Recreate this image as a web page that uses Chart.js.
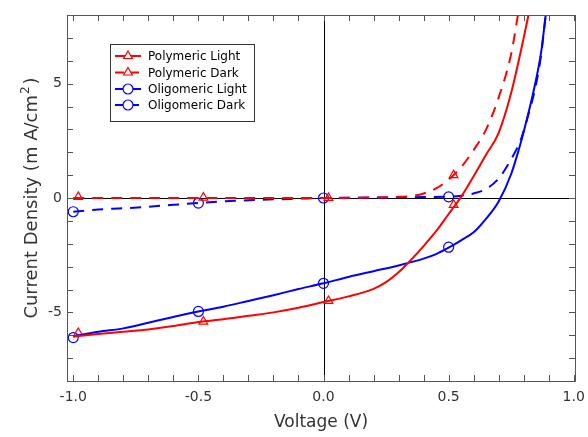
<!DOCTYPE html>
<html>
<head>
<meta charset="utf-8">
<script src="https://cdn.jsdelivr.net/npm/chart.js@4/dist/chart.umd.min.js"></script>
<style>
  html, body { margin: 0; padding: 0; background: #fff; }
  #wrap { width: 588px; height: 437px; position: relative; }
</style>
</head>
<body>
<div id="wrap"><canvas id="ivChart"></canvas></div>
<script>
// Voltage (V) / current density (mA/cm2)
const polyLightV = [-1.0, -0.9, -0.8, -0.7, -0.6, -0.5, -0.4, -0.3, -0.2, -0.1, 0.0, 0.1, 0.2, 0.25, 0.3, 0.35, 0.4, 0.45, 0.5, 0.55, 0.6, 0.65, 0.7, 0.75, 0.8, 0.83];
const polyLightJ = [-6.05, -5.95, -5.85, -5.75, -5.6, -5.42, -5.3, -5.15, -5.0, -4.8, -4.55, -4.3, -3.97, -3.68, -3.25, -2.7, -2.1, -1.45, -0.7, 0.05, 0.95, 1.9, 2.85, 4.6, 7.0, 8.6];

const polyDarkV = [-1.0, -0.5, 0.0, 0.2, 0.3, 0.35, 0.4, 0.45, 0.5, 0.55, 0.6, 0.65, 0.7, 0.75, 0.78];
const polyDarkJ = [0.0, 0.0, 0.0, 0.02, 0.05, 0.08, 0.2, 0.42, 0.8, 1.35, 2.1, 3.0, 4.4, 6.3, 8.2];

const oligoLightV = [-1.0, -0.9, -0.8, -0.7, -0.6, -0.5, -0.4, -0.3, -0.2, -0.1, 0.0, 0.1, 0.2, 0.3, 0.4, 0.45, 0.5, 0.55, 0.6, 0.65, 0.7, 0.75, 0.78, 0.8, 0.84, 0.87, 0.89];
const oligoLightJ = [-6.05, -5.85, -5.7, -5.45, -5.2, -4.96, -4.75, -4.5, -4.25, -3.98, -3.73, -3.45, -3.2, -2.95, -2.65, -2.45, -2.17, -1.85, -1.5, -0.9, -0.15, 1.05, 2.1, 2.9, 4.7, 6.4, 8.2];

const oligoDarkV = [-1.0, -0.9, -0.8, -0.7, -0.6, -0.5, -0.4, -0.3, -0.2, -0.1, 0.0, 0.2, 0.4, 0.5, 0.55, 0.6, 0.65, 0.7, 0.75, 0.79, 0.82, 0.85, 0.87, 0.89];
const oligoDarkJ = [-0.6, -0.5, -0.45, -0.38, -0.3, -0.22, -0.15, -0.1, -0.06, -0.03, 0.0, 0.02, 0.04, 0.06, 0.1, 0.2, 0.4, 0.85, 1.7, 2.6, 3.7, 5.0, 6.3, 8.2];

// marker positions
const polyMarkV = [-0.98, -0.48, 0.02, 0.52];
const polyLightMarkJ = [-5.9, -5.4, -4.5, -0.3];
const polyDarkMarkJ = [0.05, 0.02, 0.0, 1.0];
const oligoMarkV = [-1.0, -0.5, 0.0, 0.5];
const oligoLightMarkJ = [-6.1, -4.96, -3.73, -2.15];
const oligoDarkMarkJ = [-0.6, -0.22, 0.0, 0.05];

const xTicks = [-1.0, -0.5, 0.0, 0.5, 1.0];
const yTicks = [-5, 0, 5];

const seriesNames = ['Polymeric Light', 'Polymeric Dark', 'Oligomeric Light', 'Oligomeric Dark'];
const yTitle = ['Current Density (m A/cm', '2', ')'];

const RED = '#ff0000';
const BLUE = '#0000ff';
const DASH = [11, 8];
const TEXT = '#333';

function pts(xs, ys) {
    return xs.map((x, i) => ({ x: x, y: ys[i] }));
}

function lineSet(label, xs, ys, color, dashed) {
    return {
        label: label,
        data: pts(xs, ys),
        borderColor: color,
        borderWidth: 2,
        borderDash: dashed ? DASH : [],
        pointRadius: 0,
        showLine: true,
        fill: false,
        cubicInterpolationMode: 'monotone',
    };
}

function markSet(xs, ys, color, style) {
    return {
        label: '',
        data: pts(xs, ys),
        borderColor: color,
        backgroundColor: 'rgba(0,0,0,0)',
        borderWidth: 1.2,
        pointStyle: style,
        pointRadius: 5,
        showLine: false,
    };
}

// frame, inward ticks, zero lines, legend and y title
const framePlugin = {
    id: 'frame',
    beforeDatasetsDraw(chart) {
        const { ctx, chartArea: a, scales } = chart;
        const xs = scales.x, ys = scales.y;
        ctx.save();
        ctx.strokeStyle = '#000';
        ctx.lineWidth = 1;
        ctx.beginPath();
        const y0 = Math.round(ys.getPixelForValue(0)) + 0.5;
        const x0 = Math.round(xs.getPixelForValue(0)) + 0.5;
        ctx.moveTo(a.left, y0); ctx.lineTo(a.right, y0);
        ctx.moveTo(x0, a.top); ctx.lineTo(x0, a.bottom);
        ctx.stroke();
        ctx.restore();
    },
    afterDraw(chart) {
        const { ctx, chartArea: a, scales } = chart;
        const xs = scales.x, ys = scales.y;
        ctx.save();
        ctx.strokeStyle = '#555';
        ctx.lineWidth = 1;
        ctx.strokeRect(Math.round(a.left) + 0.5, Math.round(a.top) + 0.5,
            Math.round(a.right - a.left), Math.round(a.bottom - a.top));
        ctx.beginPath();
        for (let i = -10; i <= 10; i++) {
            const px = Math.round(xs.getPixelForValue(i / 10)) + 0.5;
            ctx.moveTo(px, a.bottom); ctx.lineTo(px, a.bottom - 6);
            ctx.moveTo(px, a.top); ctx.lineTo(px, a.top + 6);
        }
        for (let j = -8; j <= 8; j++) {
            const py = Math.round(ys.getPixelForValue(j)) + 0.5;
            ctx.moveTo(a.left, py); ctx.lineTo(a.left + 6, py);
            ctx.moveTo(a.right, py); ctx.lineTo(a.right - 6, py);
        }
        ctx.stroke();

        // legend
        const bx = 110.5, by = 44.5, bw = 144, bh = 77;
        ctx.fillStyle = '#fff';
        ctx.fillRect(bx, by, bw, bh);
        ctx.strokeStyle = '#333';
        ctx.strokeRect(bx, by, bw, bh);
        const rows = [56, 72.5, 89, 105];
        const colors = [RED, RED, BLUE, BLUE];
        const dashed = [false, true, false, true];
        const styles = ['triangle', 'triangle', 'circle', 'circle'];
        ctx.font = '12px "DejaVu Sans"';
        ctx.textBaseline = 'middle';
        for (let k = 0; k < 4; k++) {
            const ry = rows[k];
            ctx.strokeStyle = colors[k];
            ctx.lineWidth = 2;
            ctx.setLineDash(dashed[k] ? [9, 6] : []);
            ctx.beginPath();
            ctx.moveTo(115, ry); ctx.lineTo(141, ry);
            ctx.stroke();
            ctx.setLineDash([]);
            ctx.lineWidth = 1.2;
            ctx.fillStyle = '#fff';
            Chart.helpers.drawPoint(ctx, { pointStyle: styles[k], radius: 5, borderWidth: 1.2 }, 128, ry);
            ctx.fillStyle = '#000';
            ctx.fillText(seriesNames[k], 148, ry + 1);
        }

        // y axis title with superscript
        ctx.fillStyle = TEXT;
        ctx.textBaseline = 'alphabetic';
        const big = '18px "DejaVu Sans"', small = '12px "DejaVu Sans"';
        ctx.font = big;
        const w0 = ctx.measureText(yTitle[0]).width;
        const w2 = ctx.measureText(yTitle[2]).width;
        ctx.font = small;
        const w1 = ctx.measureText(yTitle[1]).width + 3;
        const total = w0 + w1 + w2;
        const cy = (a.top + a.bottom) / 2;
        ctx.translate(37, cy);
        ctx.rotate(-Math.PI / 2);
        let tx = -total / 2;
        ctx.font = big;
        ctx.fillText(yTitle[0], tx, 0);
        tx += w0 + 1;
        ctx.font = small;
        ctx.fillText(yTitle[1], tx, -8);
        tx += w1 - 1;
        ctx.font = big;
        ctx.fillText(yTitle[2], tx, 0);
        ctx.restore();
    },
};

new Chart(document.getElementById('ivChart'), {
    type: 'scatter',
    data: {
        datasets: [
            lineSet(seriesNames[0], polyLightV, polyLightJ, RED, false),
            lineSet(seriesNames[1], polyDarkV, polyDarkJ, RED, true),
            lineSet(seriesNames[2], oligoLightV, oligoLightJ, BLUE, false),
            lineSet(seriesNames[3], oligoDarkV, oligoDarkJ, BLUE, true),
            markSet(polyMarkV, polyLightMarkJ, RED, 'triangle'),
            markSet(polyMarkV, polyDarkMarkJ, RED, 'triangle'),
            markSet(oligoMarkV, oligoLightMarkJ, BLUE, 'circle'),
            markSet(oligoMarkV, oligoDarkMarkJ, BLUE, 'circle'),
        ],
    },
    options: {
        responsive: true,
        maintainAspectRatio: false,
        animation: false,
        layout: { padding: { top: 15, right: 13, left: 0, bottom: 0 } },
        plugins: {
            legend: { display: false },
            tooltip: { enabled: false },
        },
        scales: {
            x: {
                type: 'linear',
                min: -1.025,
                max: 1.005,
                grid: { display: false, drawTicks: false },
                border: { display: false },
                afterBuildTicks: function (scale) {
                    scale.ticks = xTicks.map(v => ({ value: v }));
                },
                afterFit: function (scale) {
                    scale.height = 56;
                    scale.paddingLeft = 0;
                    scale.paddingRight = 0;
                },
                ticks: {
                    padding: 8,
                    color: TEXT,
                    font: { family: 'DejaVu Sans', size: 14 },
                    callback: function (value) { return value.toFixed(1); },
                },
                title: {
                    display: true,
                    text: 'Voltage (V)',
                    color: TEXT,
                    font: { family: 'DejaVu Sans', size: 17 },
                    padding: { top: 10 },
                },
            },
            y: {
                type: 'linear',
                min: -8,
                max: 8,
                grid: { display: false, drawTicks: false },
                border: { display: false },
                afterBuildTicks: function (scale) {
                    scale.ticks = yTicks.map(v => ({ value: v }));
                },
                afterFit: function (scale) { scale.width = 67; },
                ticks: {
                    padding: 5,
                    color: TEXT,
                    font: { family: 'DejaVu Sans', size: 14 },
                    callback: function (value) { return String(value); },
                },
                title: { display: false },
            },
        },
    },
    plugins: [framePlugin],
});
</script>
</body>
</html>
